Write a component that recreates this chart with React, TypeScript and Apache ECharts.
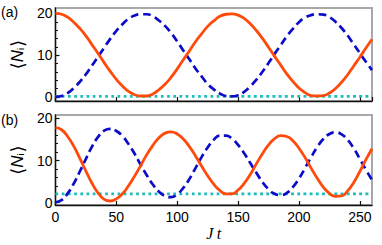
import React, { useEffect, useRef } from "react";
import * as echarts from "echarts";

const times = [0, 5, 10, 15, 20, 25, 30, 35, 40, 45, 50, 55, 60, 65, 70, 75, 80, 85, 90, 95, 100, 105, 110, 115, 120, 125, 130, 135, 140, 145, 150, 155, 160, 165, 170, 175, 180, 185, 190, 195, 200, 205, 210, 215, 220, 225, 230, 235, 240, 245, 250, 255, 260];

// panel (a)
const orangeA = [20, 19.8, 19.1, 17.9, 16.4, 14.6, 12.5, 10.4, 8.2, 6.1, 4.2, 2.6, 1.3, 0.5, 0.2, 0.2, 0.7, 1.7, 3.0, 4.7, 6.7, 8.9, 11.0, 13.2, 15.1, 16.9, 18.2, 19.3, 19.8, 19.9, 19.6, 18.8, 17.5, 15.9, 14.0, 11.9, 9.7, 7.6, 5.5, 3.7, 2.1, 1.0, 0.3, 0.2, 0.3, 0.9, 2.0, 3.5, 5.3, 7.4, 9.5, 11.7, 13.8];
const blueA = [0, 0.2, 0.9, 2.1, 3.6, 5.4, 7.5, 9.6, 11.8, 13.9, 15.8, 17.4, 18.7, 19.5, 19.8, 19.8, 19.3, 18.3, 17.0, 15.3, 13.3, 11.1, 9.0, 6.8, 4.9, 3.1, 1.8, 0.8, 0.2, 0.1, 0.4, 1.2, 2.5, 4.1, 6.0, 8.1, 10.3, 12.4, 14.5, 16.3, 17.9, 19.0, 19.6, 19.8, 19.7, 19.1, 18.0, 16.5, 14.7, 12.6, 10.5, 8.4, 6.4];
const cyanA = times.map(() => 0.1);

// panel (b)
const orangeB = [17.8, 17.3, 15.7, 13.4, 10.5, 7.5, 4.6, 2.3, 0.8, 0.4, 0.9, 2.1, 4.0, 6.3, 8.8, 11.4, 13.6, 15.4, 16.5, 16.8, 16.3, 15.1, 13.3, 11.1, 8.7, 6.4, 4.4, 2.9, 2.1, 2.1, 3.0, 4.6, 6.7, 9.2, 11.6, 13.7, 15.2, 15.9, 15.7, 14.7, 12.9, 10.7, 8.2, 5.8, 3.7, 2.2, 1.5, 1.6, 2.8, 4.8, 7.4, 10.2, 12.8];
const blueB = [0.1, 0.6, 2.2, 4.5, 7.4, 10.4, 13.3, 15.6, 17.1, 17.5, 17.0, 15.8, 13.9, 11.6, 9.0, 6.5, 4.3, 2.6, 1.6, 1.3, 2.0, 3.5, 5.6, 8.2, 10.8, 13.1, 14.9, 15.9, 15.9, 15.2, 13.7, 11.7, 9.4, 7.1, 4.9, 3.2, 2.1, 1.8, 2.3, 3.7, 5.7, 8.2, 10.8, 13.2, 15.1, 16.3, 16.7, 16.2, 14.9, 12.9, 10.4, 7.8, 5.4];
const cyanB = times.map(() => 2.1);

const majorY = [0, 10, 20];
const minorY = [2, 4, 6, 8, 12, 14, 16, 18];
const panelLabels = ["(a)", "(b)"];

const ORANGE = "#ff4a0c";
const BLUE = "#0c0cc8";
const CYAN = "#1cbcbc";
const FONT = "Liberation Sans";

const pair = (vals: number[]) => times.map((t, i) => [t, vals[i]]);

export default function App() {
  const ref = useRef<HTMLDivElement>(null);
  useEffect(() => {
    if (!ref.current) return;
    const chart = echarts.init(ref.current, null, { renderer: "svg" });

    const yName = {
      name: "{b|⟨}{n|N}{s|i}{b|⟩}",
      nameLocation: "middle" as const,
      nameGap: 21,
      nameRotate: 90,
      nameTextStyle: {
        rich: {
          b: { fontSize: 18, fontFamily: "DejaVu Sans", color: "#000" },
          n: { fontSize: 17, fontStyle: "italic", fontFamily: FONT, color: "#000" },
          s: { fontSize: 9, fontFamily: FONT, color: "#000", padding: [8, 1, 0, 0] },
        },
      },
    };

    const xBase = (gridIndex: number, showLabels: boolean) => ({
      type: "value" as const,
      gridIndex,
      min: 0,
      max: 260,
      interval: 50,
      axisLine: { show: true, onZero: false, lineStyle: { color: "#111", width: 1.3 } },
      axisTick: { show: true, inside: true, length: 4, lineStyle: { color: "#111", width: 1.2 } },
      axisLabel: { show: showLabels, fontSize: 14, fontFamily: FONT, color: "#000", margin: 5 },
      splitLine: { show: false },
      ...(showLabels
        ? {
            name: "J\u2009t",
            nameLocation: "middle" as const,
            nameGap: 20,
            nameTextStyle: { fontSize: 16, fontStyle: "italic", fontFamily: "Liberation Serif", color: "#000" },
          }
        : {}),
    });

    const yMajor = (gridIndex: number, min: number, max: number) => ({
      type: "value" as const,
      gridIndex,
      min,
      max,
      position: "left" as const,
      axisLine: { show: true, onZero: false, lineStyle: { color: "#111", width: 1.3 } },
      axisTick: { show: true, inside: true, length: 4, customValues: majorY, lineStyle: { color: "#111", width: 1.2 } },
      axisLabel: { show: true, customValues: majorY, fontSize: 14, fontFamily: FONT, color: "#000", margin: 3 },
      splitLine: { show: false },
      ...yName,
    });

    const yMinor = (gridIndex: number, min: number, max: number) => ({
      type: "value" as const,
      gridIndex,
      min,
      max,
      position: "left" as const,
      offset: 0,
      axisLine: { show: false },
      axisTick: { show: true, inside: true, length: 2.5, customValues: minorY, lineStyle: { color: "#111", width: 1 } },
      axisLabel: { show: false },
      splitLine: { show: false },
    });

    const lineSeries = (x: number, y: number, vals: number[], color: string, type: any, width: number, z: number) => ({
      type: "line" as const,
      xAxisIndex: x,
      yAxisIndex: y,
      data: pair(vals),
      smooth: true,
      showSymbol: false,
      symbol: "none",
      z,
      lineStyle: { color, width, type, cap: "butt" as const },
    });

    chart.setOption({
      animation: false,
      backgroundColor: "#fff",
      grid: [
        { left: 52, right: 10, top: 8, height: 93, show: true, borderColor: "#a8a8a8", borderWidth: 2 },
        { left: 52, right: 10, top: 115, height: 90, show: true, borderColor: "#a8a8a8", borderWidth: 2 },
      ],
      xAxis: [xBase(0, false), xBase(1, true)],
      yAxis: [yMajor(0, -1, 21.3), yMinor(0, -1, 21.3), yMajor(1, -0.55, 20.8), yMinor(1, -0.55, 20.8)],
      series: [
        lineSeries(0, 0, cyanA, CYAN, [2.8, 3.4], 2.8, 2),
        lineSeries(0, 0, blueA, BLUE, [8, 4.5], 2.7, 3),
        lineSeries(0, 0, orangeA, ORANGE, "solid", 2.8, 4),
        lineSeries(1, 2, cyanB, CYAN, [2.8, 3.4], 2.8, 2),
        lineSeries(1, 2, blueB, BLUE, [8, 4.5], 2.7, 3),
        lineSeries(1, 2, orangeB, ORANGE, "solid", 2.8, 4),
      ],
      graphic: [
        { type: "text", left: 1, top: 5, style: { text: panelLabels[0], fontSize: 14, fontFamily: FONT, fill: "#000" } },
        { type: "text", left: 1, top: 113, style: { text: panelLabels[1], fontSize: 14, fontFamily: FONT, fill: "#000" } },
      ],
    });
    return () => chart.dispose();
  }, []);
  return <div ref={ref} style={{ position: "absolute", left: 0, top: 0, width: 382, height: 245 }} />;
}
